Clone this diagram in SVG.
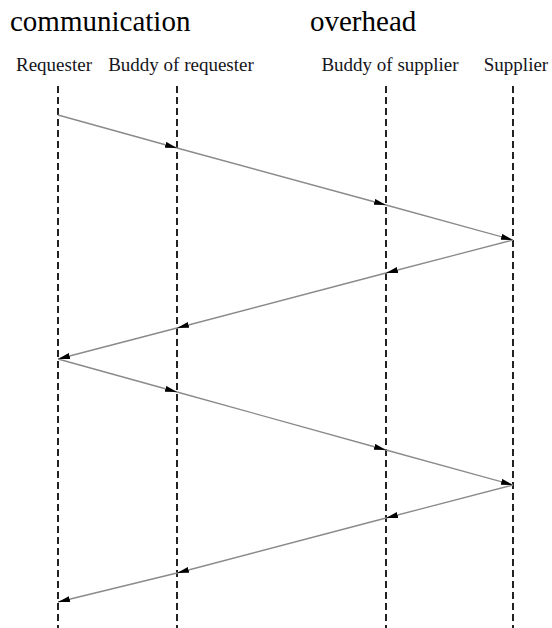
<svg xmlns="http://www.w3.org/2000/svg" width="552" height="628" viewBox="0 0 552 628">
<style>
.title{font-family:"Liberation Serif","Times New Roman",serif;font-size:29px;fill:#000}
.lbl{font-family:"Liberation Serif","Times New Roman",serif;font-size:19px;fill:#151520;text-anchor:middle}
.life{stroke:#222;stroke-width:2;stroke-dasharray:7 4;fill:none}
.msg{stroke:#8a8a8a;stroke-width:1.3;fill:none;marker-end:url(#ah)}
</style>
<defs>
<marker id="ah" markerUnits="userSpaceOnUse" markerWidth="13" markerHeight="8" refX="12" refY="3" orient="auto">
<path d="M0,0 L12,3 L0,6 z" fill="#000"/>
</marker>
</defs>
<rect width="552" height="628" fill="#fff"/>
<text class="title" x="10" y="31">communication</text>
<text class="title" x="310" y="31">overhead</text>
<g id="requester">
<text class="lbl" x="54" y="71">Requester</text>
<line class="life" x1="58" y1="86" x2="58" y2="628"/>
</g>
<g id="buddy-requester">
<text class="lbl" x="181" y="71">Buddy of requester</text>
<line class="life" x1="177" y1="86" x2="177" y2="628"/>
</g>
<g id="buddy-supplier">
<text class="lbl" x="390" y="71">Buddy of supplier</text>
<line class="life" x1="386" y1="86" x2="386" y2="628"/>
</g>
<g id="supplier">
<text class="lbl" x="516" y="71">Supplier</text>
<line class="life" x1="513" y1="86" x2="513" y2="628"/>
</g>
<g id="connectors">
<line class="msg" x1="58" y1="115" x2="177" y2="148"/>
<line class="msg" x1="177" y1="148" x2="386" y2="205"/>
<line class="msg" x1="386" y1="205" x2="513" y2="240"/>
<line class="msg" x1="513" y1="240" x2="386" y2="273"/>
<line class="msg" x1="386" y1="273" x2="177" y2="328"/>
<line class="msg" x1="177" y1="328" x2="58" y2="359"/>
<line class="msg" x1="58" y1="359" x2="177" y2="392"/>
<line class="msg" x1="177" y1="392" x2="386" y2="450"/>
<line class="msg" x1="386" y1="450" x2="513" y2="485"/>
<line class="msg" x1="513" y1="485" x2="386" y2="518"/>
<line class="msg" x1="386" y1="518" x2="177" y2="573"/>
<line class="msg" x1="177" y1="573" x2="58" y2="602"/>
</g>
</svg>
